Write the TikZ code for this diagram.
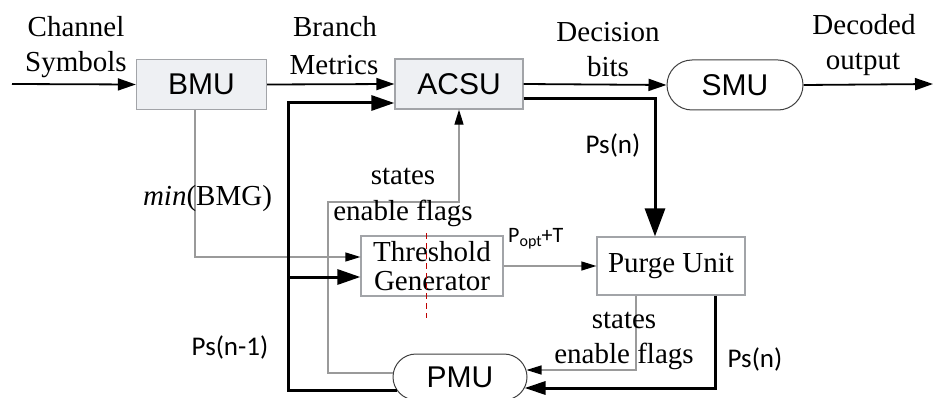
\documentclass[tikz,border=0pt]{standalone}
\usepackage{fontspec}
\setmainfont{Liberation Serif}
\newfontfamily\arialf{Liberation Sans}
\newfontfamily\calf{Carlito}
\usetikzlibrary{arrows.meta,shapes.misc,calc}
\definecolor{boxfill}{HTML}{EEF0F3}
\definecolor{boxline}{HTML}{A2A4A8}
\definecolor{gline}{HTML}{9A9A9A}
\begin{document}
\begin{tikzpicture}[x=1pt,y=-1pt,
  blk/.style={draw=boxline,line width=1.3pt,fill=boxfill,minimum width=130pt,minimum height=50pt,inner sep=0pt,font=\arialf\fontsize{30}{32}\selectfont},
  wblk/.style={draw=boxline,line width=1.2pt,fill=white,inner sep=0pt,align=center,font=\fontsize{29}{29}\selectfont},
  pill/.style={rounded rectangle,draw=black!75,line width=1pt,fill=white,inner sep=0pt,font=\arialf\fontsize{30}{32}\selectfont},
  lbl/.style={anchor=base,inner sep=0pt,font=\fontsize{29}{35}\selectfont},
  slbl/.style={anchor=base,inner sep=0pt,font=\calf\fontsize{27}{30}\selectfont},
  arr/.style={line width=1.8pt,-{Triangle[length=18pt,width=12pt]}},
  tarr/.style={line width=3pt,-{Triangle[length=23pt,width=15pt]}},
  garr/.style={draw=gline,line width=1.2pt,-{Triangle[length=15pt,width=9pt,color=black]}},
  redline/.style={draw=red!75!black,line width=1pt,dash pattern=on 6pt off 4pt}
]
\useasboundingbox (0,0) rectangle (934,398);
\fill[white] (0,0) rectangle (934,398);

% blocks
\node[blk] (bmu) at (201.5,84.5) {BMU};
\node[blk,minimum width=128pt] (acsu) at (459,84) {ACSU};
\node[pill,minimum width=136pt,minimum height=50pt] (smu) at (735,85) {SMU};
\node[wblk,minimum width=142pt,minimum height=60pt] (tg) at (432,266) {Threshold\\Generator};
\node[wblk,minimum width=148pt,minimum height=58pt] (pu) at (671,266) {Purge Unit};
\node[pill,minimum width=134pt,minimum height=46pt] (pmu) at (460,377) {PMU};

% helper coordinates
\coordinate (in) at (12,84);
\coordinate (out) at (933,84);
\coordinate (tl) at (288,390);
\coordinate (j1) at (288,277);
\coordinate (g1) at (328,373);
\coordinate (g2) at (328,202);
\coordinate (r1) at (426,233);
\coordinate (r2) at (426,318);

% main data path
\draw[arr] (in) -- (bmu.west);
\draw[arr] (bmu.east) -- (acsu.west);
\draw[arr] (acsu.east) -- (smu.west);
\draw[arr] (smu.east) -- (out);

% gray control paths
\draw[garr] ($(bmu.south)+(-6.5,0)$) |- ($(tg.west)+(0,-9)$);
\draw[garr] ($(pmu.west)+(0.5,-4)$) -- (g1) -- (g2) -| (acsu.south);
\draw[garr] (tg.east) -- (pu.west);
\draw[garr] ($(pu.south)+(-35,0)$) |- ($(pmu.east)+(-1,-7)$);

% thick path-metric paths
\draw[tarr] ($(pmu.west)+(4,13)$) -- (tl) |- ($(acsu.west)+(0,19)$);
\draw[tarr] (j1) -- ($(tg.west)+(0,11)$);
\draw[line width=3pt,-{Triangle[length=28pt,width=20pt]}] ($(acsu.east)+(0,15)$) -| ($(pu.north)+(-16,0)$);
\draw[line width=3pt,-{Triangle[length=21pt,width=13pt]}] ($(pu.south)+(44,0)$) |- ($(pmu.east)+(-3,11)$);

% red dashed marker
\draw[redline] (r1) -- (r2);

% labels
\node[lbl] (l1) at (76,37) {Channel};
\node[lbl] (l2) at (76,72) {Symbols};
\node[lbl] (l3) at (335,37) {Branch};
\node[lbl] (l4) at (334,75) {Metrics};
\node[lbl] (l5) at (608,42) {Decision};
\node[lbl] (l6) at (608,77) {bits};
\node[lbl] (l7) at (864,35) {Decoded};
\node[lbl] (l8) at (863,70) {output};
\node[lbl] (l9) at (207.5,205) {\textit{min}(BMG)};
\node[lbl] (l10) at (403,185) {states};
\node[lbl] (l11) at (403,220) {enable flags};
\node[lbl] (l12) at (624,328) {states};
\node[lbl] (l13) at (624,363) {enable flags};
\node[slbl] (l14) at (613,154) {Ps(n)};
\node[slbl] (l15) at (755,367) {Ps(n)};
\node[slbl] (l16) at (230,355) {Ps(n-1)};
\node[slbl,anchor=base west,font=\calf\fontsize{22}{24}\selectfont] (l17) at (508,243) {P\raisebox{-3pt}{\fontsize{16}{16}\selectfont opt}+T};
\end{tikzpicture}
\end{document}
